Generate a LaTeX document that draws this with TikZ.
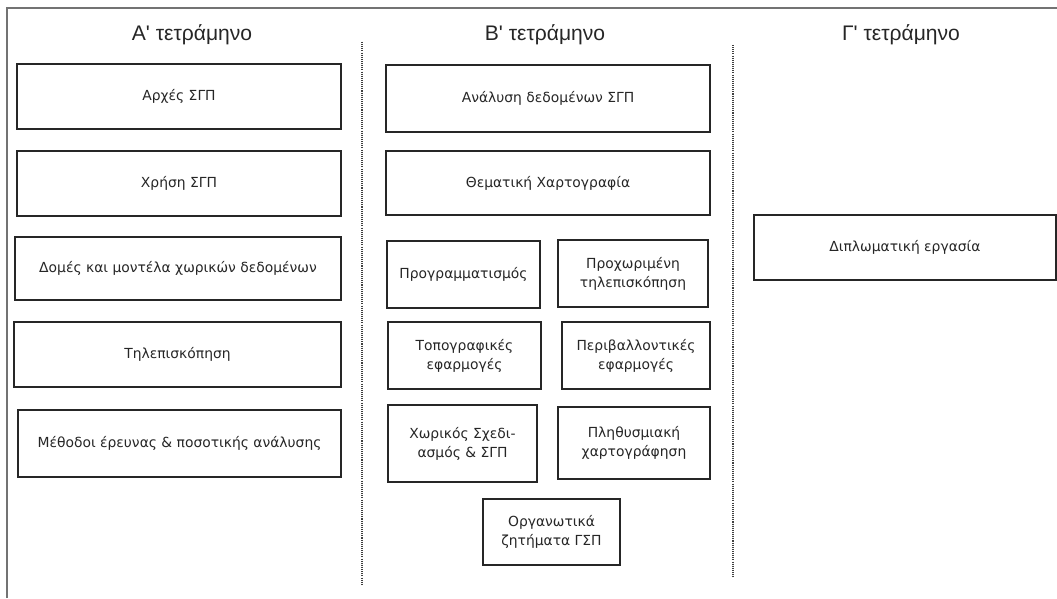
\documentclass[tikz,border=0pt]{standalone}
\usepackage{fontspec}
\setmainfont{DejaVu Sans}
\newfontfamily\termfont{Liberation Sans}
\def\px{0.02cm}
\tikzset{
  course/.style={draw=black!85, line width=1.3pt, inner sep=0pt, align=center,
    text=black!85, font=\fontsize{7.9}{10.8}\selectfont},
  term/.style={text=black!85, font=\termfont\fontsize{12}{14}\selectfont},
  divider/.style={black!75, line width=0.9pt, dash pattern=on 0.6pt off 0.6pt}
}
% course box from its corners: name, x1, y1, x2, y2, text
\def\coursebox(#1)(#2,#3)(#4,#5)#6{\node[course, minimum width={(#4-#2)*\px}, minimum height={(#5-#3)*\px}] (#1) at ({(#2+#4)/2},{(#3+#5)/2}) {#6};}

\begin{document}
\begin{tikzpicture}[x=\px, y=-\px]
			%%%%% START %%%%%
			\useasboundingbox (0, 0) rectangle (1057, 598);
			\draw[black!55, line width=0.6pt] (7, 598) -- (7, 8) -- (1057, 8);
			
			\draw[divider] (362, 42) -- (362, 584);
			\draw[divider] (733, 45) -- (733, 577);
			
			\node[term] (termA) at (192, 35) {Α' τετράμηνο};
			\node[term] (termB) at (545, 35) {Β' τετράμηνο};
			\node[term] (termC) at (901, 35) {Γ' τετράμηνο};
			
			\coursebox(arxes)(17, 64)(341, 129){Αρχές ΣΓΠ}
			\coursebox(xrisi)(17, 151)(341, 216){Χρήση ΣΓΠ}
			\coursebox(domes)(15, 237)(341, 300){Δομές και μοντέλα χωρικών δεδομένων}
			\coursebox(tilep)(14, 322)(341, 387){Τηλεπισκόπηση}
			\coursebox(methodoi)(18, 410)(341, 477){Μέθοδοι έρευνας \& ποσοτικής ανάλυσης}
			
			\coursebox(analysi)(386, 65)(710, 132){Ανάλυση δεδομένων ΣΓΠ}
			\coursebox(thematiki)(386, 151)(710, 215){Θεματική Χαρτογραφία}
			\coursebox(progr)(387, 241)(540, 308){Προγραμματισμός}
			\coursebox(proxtilep)(558, 240)(708, 307){Προχωριμένη\\τηλεπισκόπηση}
			\coursebox(topo)(388, 322)(541, 389){Τοπογραφικές\\εφαρμογές}
			\coursebox(perib)(562, 322)(710, 389){Περιβαλλοντικές\\εφαρμογές}
			\coursebox(xoriko)(388, 405)(537, 482){Χωρικός Σχεδι-\\ασμός \& ΣΓΠ}
			\coursebox(plith)(558, 407)(710, 479){Πληθυσμιακή\\χαρτογράφηση}
			\coursebox(organ)(483, 499)(620, 565){Οργανωτικά\\ζητήματα ΓΣΠ}
			
			\coursebox(diplom)(754, 215)(1056, 280){Διπλωματική εργασία}
			%%%%% END %%%%%
\end{tikzpicture}
\end{document}
